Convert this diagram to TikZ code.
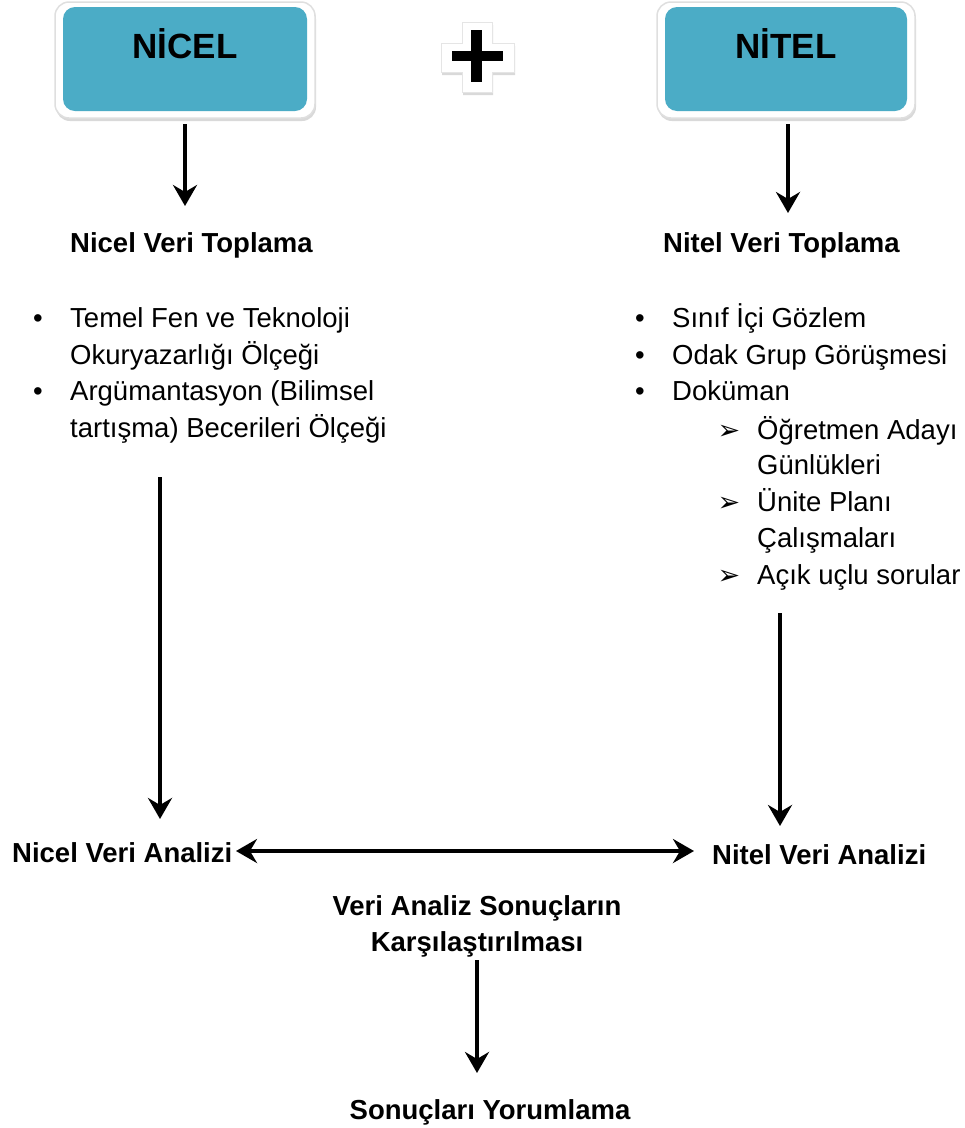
\documentclass[tikz,border=0pt]{standalone}
\usepackage{fontspec}
\setmainfont{Liberation Sans}
\newfontfamily\dvfont{DejaVu Sans}
\usetikzlibrary{arrows.meta,shadows}
\definecolor{teal1}{HTML}{4BACC6}
\tikzset{
  tip/.tip={Stealth[length=21pt,width=24pt,inset=7pt]},
  arr/.style={line width=4pt,-tip},
  darr/.style={line width=4pt,tip-tip},
  txt/.style={inner sep=0pt,font=\fontsize{27.5}{33}\selectfont},
  btxt/.style={inner sep=0pt,font=\fontsize{27.5}{33}\selectfont\bfseries},
  head/.style={inner sep=0pt,font=\fontsize{35}{40}\selectfont\bfseries},
  abul/.style={inner sep=0pt,anchor=base,font=\dvfont\bfseries\fontsize{27}{30}\selectfont},
  outerbox/.style={fill=white,draw=gray!25,line width=1.5pt,rounded corners=14pt,drop shadow={shadow xshift=1pt,shadow yshift=-3pt,opacity=0.3,fill=gray}},
  innerbox/.style={fill=teal1,rounded corners=12pt},
}
\begin{document}
\begin{tikzpicture}[x=1pt,y=-1pt]
\useasboundingbox (0,0) rectangle (965,1128);
% top boxes
\path[outerbox] (55,2) rectangle (315,118);
\path[innerbox] (63,7) rectangle (307,111);
\node[head,anchor=base] (nicel) at (185,58) {NİCEL};
\coordinate (nicelb) at (185,124);
\path[outerbox] (657,2) rectangle (915,118);
\path[innerbox] (665,7) rectangle (907,111);
\node[head,anchor=base] (nitel) at (786,58) {NİTEL};
\coordinate (nitelb) at (788,124);
% plus sign
\path[fill=white,draw=gray!20,line width=1pt,drop shadow={shadow xshift=1pt,shadow yshift=-3pt,opacity=0.3,fill=gray}]
  (462,22) -- (492,22) -- (492,43) -- (514,43) -- (514,72) -- (492,72) -- (492,92) -- (462,92) -- (462,72) -- (441,72) -- (441,43) -- (462,43) -- cycle;
\fill (471,30) rectangle (482,82);
\fill (452,51) rectangle (503,61);
% collection titles
\node[btxt,anchor=base west] (nvt) at (70,252) {Nicel Veri Toplama};
\node[btxt,anchor=base west] (tvt) at (663,252) {Nitel Veri Toplama};
\coordinate (nvttop) at (185,206);
\coordinate (tvttop) at (788,213);
\draw[arr] (nicelb) -- (nvttop);
\draw[arr] (nitelb) -- (tvttop);
% left list
\node[txt,anchor=base] (lb1) at (38,327) {•};
\node[txt,anchor=base west] (l1) at (70,327) {Temel Fen ve Teknoloji};
\node[txt,anchor=base west] (l2) at (70,364) {Okuryazarlığı Ölçeği};
\node[txt,anchor=base] (lb2) at (38,400) {•};
\node[txt,anchor=base west] (l3) at (70,400) {Argümantasyon (Bilimsel};
\node[txt,anchor=base west] (l4) at (70,437) {tartışma) Becerileri Ölçeği};
% right list
\node[txt,anchor=base] (rb1) at (640,327) {•};
\node[txt,anchor=base west] (r1) at (672,327) {Sınıf İçi Gözlem};
\node[txt,anchor=base] (rb2) at (640,364) {•};
\node[txt,anchor=base west] (r2) at (672,364) {Odak Grup Görüşmesi};
\node[txt,anchor=base] (rb3) at (640,400) {•};
\node[txt,anchor=base west] (r3) at (672,400) {Doküman};
\node[abul] (sb1) at (729,439) {➢};
\node[txt,anchor=base west] (s1) at (757,439) {Öğretmen Adayı};
\node[txt,anchor=base west] (s2) at (757,474) {Günlükleri};
\node[abul] (sb2) at (729,511) {➢};
\node[txt,anchor=base west] (s3) at (757,511) {Ünite Planı};
\node[txt,anchor=base west] (s4) at (757,547) {Çalışmaları};
\node[abul] (sb3) at (729,584) {➢};
\node[txt,anchor=base west] (s5) at (757,584) {Açık uçlu sorular};
% analysis
\node[btxt,anchor=base west] (nva) at (12,862) {Nicel Veri Analizi};
\node[btxt,anchor=base west] (tva) at (712,864) {Nitel Veri Analizi};
\coordinate (la) at (160,477);
\coordinate (lae) at (160,819);
\coordinate (ra) at (780,613);
\coordinate (rae) at (780,826);
\draw[arr] (la) -- (lae);
\draw[arr] (ra) -- (rae);
\coordinate (hl) at (236,851);
\coordinate (hr) at (694,851);
\draw[darr] (hl) -- (hr);
% comparison
\node[btxt,anchor=base] (cmp1) at (477,915) {Veri Analiz Sonuçların};
\node[btxt,anchor=base] (cmp2) at (477,951) {Karşılaştırılması};
\node[btxt,anchor=base] (yor) at (490,1119) {Sonuçları Yorumlama};
\coordinate (ca) at (477,960);
\coordinate (cae) at (477,1073);
\draw[arr] (ca) -- (cae);
\end{tikzpicture}
\end{document}
